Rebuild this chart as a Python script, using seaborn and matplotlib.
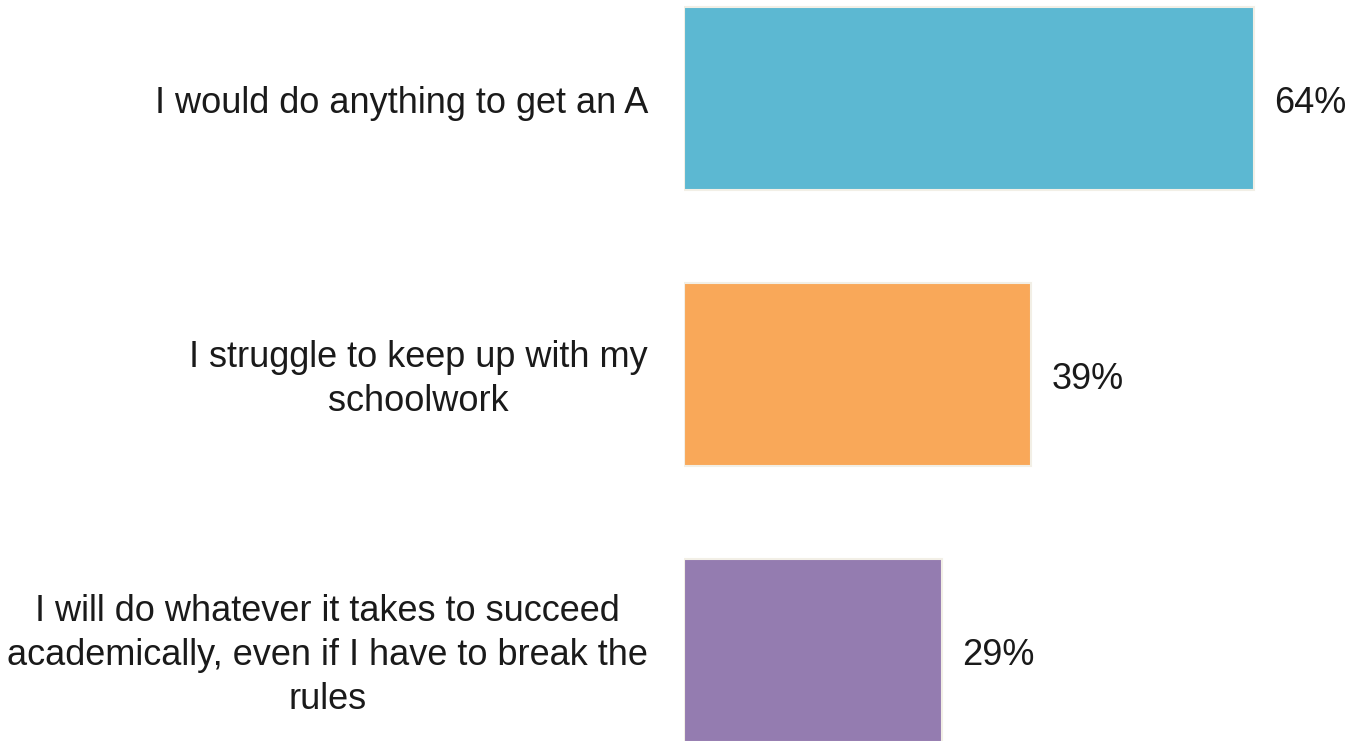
import matplotlib
matplotlib.use("Agg")
import matplotlib.pyplot as plt
import seaborn as sns
import pandas as pd

# Survey statements and share of respondents agreeing
statements = [
    "I would do anything to get an A",
    "I struggle to keep up with my\nschoolwork",
    "I will do whatever it takes to succeed\nacademically, even if I have to break the\nrules",
]
shares = [64, 39, 29]
bar_colors = ["#5cb8d2", "#f9a859", "#947cb0"]

df = pd.DataFrame({"statement": statements, "share": shares})

sns.set_theme(style="white")
plt.rcParams["font.family"] = ["Liberation Sans", "DejaVu Sans"]

fig = plt.figure(figsize=(13.54, 7.41), dpi=100)
ax = fig.add_axes([684 / 1354, 0, 668 / 1354, 1])

sns.barplot(
    data=df, x="share", y="statement", hue="statement",
    palette=bar_colors, saturation=1, orient="h", width=0.66, legend=False,
    edgecolor="#f2efe6", linewidth=1.5, ax=ax,
)

ax.set_xlim(0, 75)
ax.set_ylim(2.328, -0.357)
ax.set_xlabel("")
ax.set_ylabel("")
ax.set_xticks([])
ax.set_yticks([])
for s in ax.spines.values():
    s.set_visible(False)

for i, (txt, val) in enumerate(zip(statements, shares)):
    ax.annotate(txt, xy=(0, i), xytext=(-36, -5), textcoords="offset pixels",
                ha="right", va="center", multialignment="center",
                fontsize=26, color="#1a1a1a", linespacing=1.32)
    ax.annotate(f"{val}%", xy=(val, i), xytext=(20, -5), textcoords="offset pixels",
                ha="left", va="center", fontsize=26, color="#1a1a1a")

fig.savefig("out.png", dpi=100)
